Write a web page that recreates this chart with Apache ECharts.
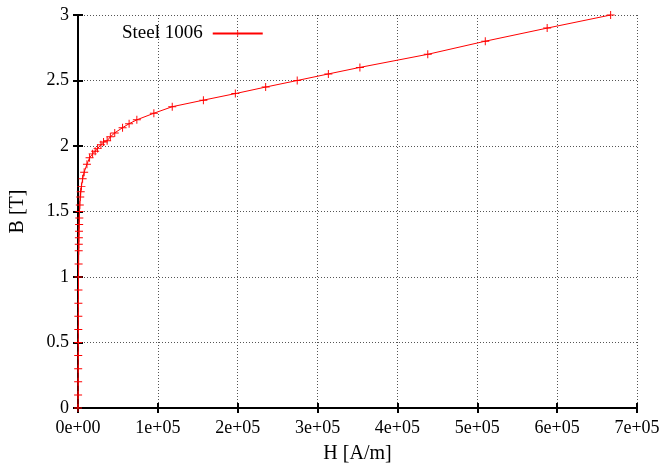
<!DOCTYPE html>
<html>
<head>
<meta charset="utf-8">
<script src="https://cdn.jsdelivr.net/npm/echarts@6/dist/echarts.min.js"></script>
<style>html,body{margin:0;padding:0;background:#fff}#c{width:664px;height:470px}</style>
</head>
<body>
<div id="c"></div>
<script>
var seriesName = 'Steel 1006';
var H = [0, 100, 180, 240, 290, 340, 390, 440, 500, 570, 650, 760, 900, 1000, 1120, 1260, 1430, 1640, 1900, 2250, 2800, 3400, 4300, 5800, 7700, 11200, 14500, 18300, 21500, 24500, 28700, 32000, 36500, 40500, 46000, 55800, 64000, 73700, 95000, 118000, 157000, 197000, 235000, 274500, 313500, 353000, 438000, 510000, 587500, 667000];
var B = [0, 0.1, 0.2, 0.3, 0.4, 0.5, 0.6, 0.7, 0.8, 0.9, 1.0, 1.1, 1.2, 1.25, 1.3, 1.35, 1.4, 1.45, 1.5, 1.55, 1.61, 1.65, 1.69, 1.75, 1.8, 1.86, 1.91, 1.94, 1.96, 1.98, 2.01, 2.03, 2.04, 2.07, 2.1, 2.14, 2.17, 2.2, 2.25, 2.3, 2.35, 2.4, 2.45, 2.5, 2.55, 2.6, 2.7, 2.8, 2.9, 3.0];
var xTicks = [0, 100000, 200000, 300000, 400000, 500000, 600000, 700000];
var yTicks = [0, 0.5, 1, 1.5, 2, 2.5, 3];

var data = H.map(function (h, i) { return [h, B[i]]; });
function fmtExp(v) {
  if (v === 0) return '0e+00';
  var e = Math.floor(Math.log10(Math.abs(v)) + 1e-9);
  var m = Math.round(v / Math.pow(10, e));
  return m + 'e' + (e >= 0 ? '+' : '-') + (Math.abs(e) < 10 ? '0' : '') + Math.abs(e);
}
var font = 'Liberation Serif';
var gridLine = { show: true, lineStyle: { color: '#555', type: [1, 2], width: 1 } };
var axisLine = { show: true, lineStyle: { color: '#000', width: 2 } };
var tick = { show: true, inside: true, length: 5, lineStyle: { color: '#000', width: 2 } };
var cross = 'path://M0,4.4H10V5.6H0Z M4.4,0H5.6V10H4.4Z';
var chart = echarts.init(document.getElementById('c'), null, { renderer: 'canvas' });
chart.setOption({
  backgroundColor: '#fff',
  animation: false,
  textStyle: { fontFamily: font },
  grid: { left: 77, right: 27, top: 15, bottom: 62, containLabel: false },
  legend: {
    left: 117, top: 19, align: 'right', itemWidth: 50, itemHeight: 8,
    textStyle: { fontFamily: font, fontSize: 19, color: '#000', padding: [0, 5, 0, 0] },
    data: [seriesName]
  },
  xAxis: [{
    type: 'value', min: xTicks[0], max: xTicks[xTicks.length - 1], interval: xTicks[1] - xTicks[0],
    position: 'bottom',
    name: 'H [A/m]', nameLocation: 'middle', nameGap: 36,
    nameTextStyle: { fontFamily: font, fontSize: 20, color: '#000' },
    axisLine: axisLine, axisTick: tick, splitLine: gridLine,
    axisLabel: { formatter: fmtExp, fontFamily: font, fontSize: 18, color: '#000', margin: 11 }
  }, {
    type: 'value', min: xTicks[0], max: xTicks[xTicks.length - 1], interval: xTicks[1] - xTicks[0],
    position: 'top', axisLine: axisLine, axisTick: tick, splitLine: { show: false },
    axisLabel: { show: false }
  }],
  yAxis: [{
    type: 'value', min: yTicks[0], max: yTicks[yTicks.length - 1], interval: yTicks[1] - yTicks[0],
    position: 'left',
    name: 'B [T]', nameLocation: 'middle', nameGap: 50, nameRotate: 90,
    nameTextStyle: { fontFamily: font, fontSize: 20, color: '#000' },
    axisLine: axisLine, axisTick: tick, splitLine: gridLine,
    axisLabel: { fontFamily: font, fontSize: 18, color: '#000', margin: 9 }
  }, {
    type: 'value', min: yTicks[0], max: yTicks[yTicks.length - 1], interval: yTicks[1] - yTicks[0],
    position: 'right', axisLine: axisLine, axisTick: tick, splitLine: { show: false },
    axisLabel: { show: false }
  }],
  series: [{
    name: seriesName, type: 'line', data: data,
    xAxisIndex: 0, yAxisIndex: 0,
    symbol: cross, symbolSize: 8, showAllSymbol: true,
    lineStyle: { color: '#ff0000', width: 1 },
    itemStyle: { color: '#ff0000' }
  }]
});
</script>
</body>
</html>
